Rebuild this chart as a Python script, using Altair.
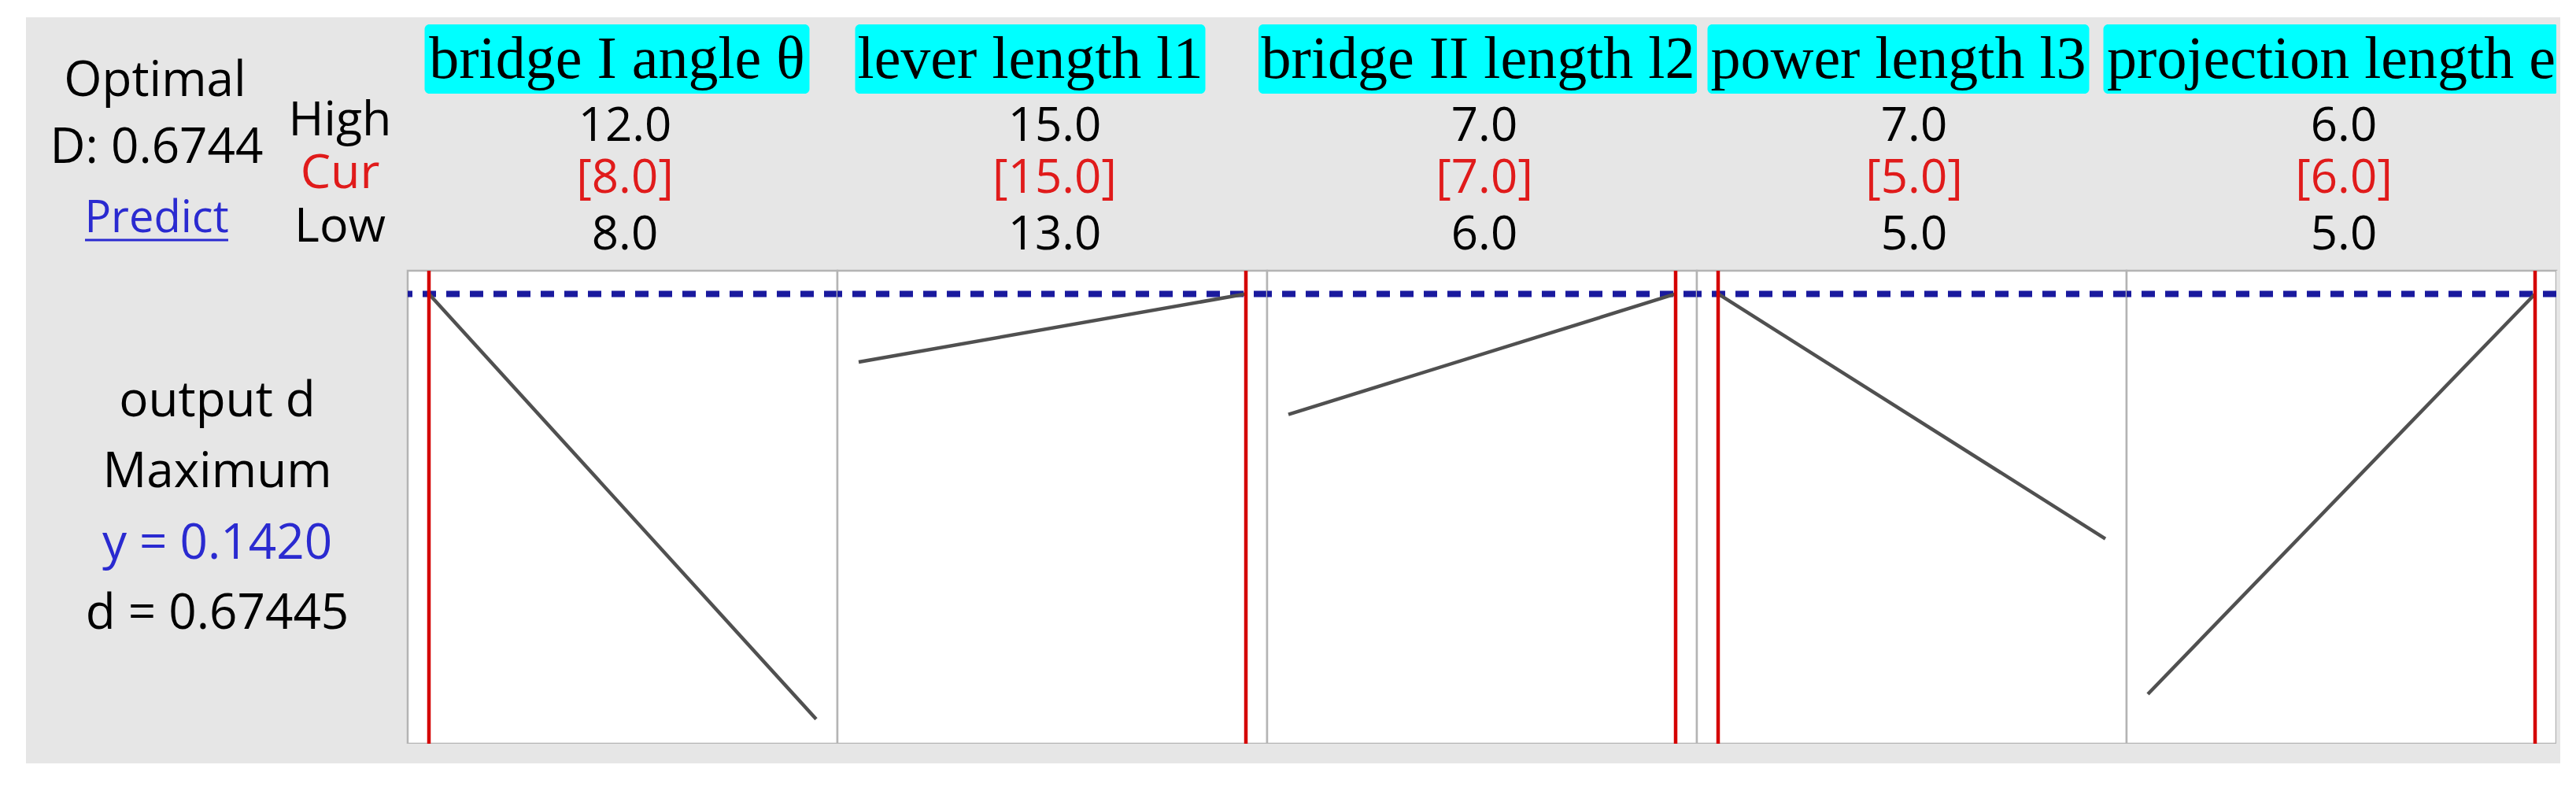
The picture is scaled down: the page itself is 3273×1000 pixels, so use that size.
import altair as alt
import pandas as pd

# ---------------- data ----------------
factors = ["bridge I angle θ", "lever length l1", "bridge II length l2",
           "power length l3", "projection length e"]
high = [12.0, 15.0, 7.0, 7.0, 6.0]
cur = [8.0, 15.0, 7.0, 5.0, 6.0]
low = [8.0, 13.0, 6.0, 5.0, 5.0]
# predicted response at the low and high end of each factor
y_at_low = [0.1420, 0.1273, 0.1160, 0.1420, 0.0557]
y_at_high = [0.0503, 0.1420, 0.1420, 0.0892, 0.1420]
y_opt = 0.1420
D_comp = 0.6744
d_ind = 0.67445
left_top = ["Optimal", f"D: {D_comp:.4f}", "Predict"]
row_labels = ["High", "Cur", "Low"]
left_bottom = ["output d", "Maximum", f"y = {y_opt:.4f}", f"d = {d_ind:.5f}"]

# ---------------- layout / style ----------------
PANEL_W = 546
HDR_H = 322
PLOT_H = 601
FOOT_H = 25
LEFT_W = 485
STRIP_W = 5
title_cx = [266, 245, 268, 256, 260]
title_w = [489, 445, 558, 485, 579]
Y_DOMAIN = [0.045, 0.147]

GREY = "#e6e6e6"
RED_TXT = "#e01b1b"
RED_LINE = "#d40000"
BLUE_DASH = "#1a1a9e"
BLUE_TXT = "#2a2ad0"
LINE_COL = "#505050"
SANS = "Open Sans"
SERIF = "Liberation Serif"
GREY_VIEW = alt.ViewBackground(fill=GREY, strokeWidth=0)


def txt(df, x, y, field, size=60, color="black", font=SANS):
    return alt.Chart(df).mark_text(
        font=font, fontSize=size, color=color, align="center", baseline="alphabetic"
    ).encode(x=alt.value(x), y=alt.value(y), text=f"{field}:N")


def blank(df, w, h):
    return alt.Chart(df).mark_text(text=" ").encode(
        x=alt.value(0), y=alt.value(0)
    ).properties(width=w, height=h, view=GREY_VIEW)


def header(i):
    hdr_df = pd.DataFrame({
        "t": [factors[i]],
        "hi": [f"{high[i]:.1f}"],
        "cu": [f"[{cur[i]:.1f}]"],
        "lo": [f"{low[i]:.1f}"],
    })
    cx, w = title_cx[i], title_w[i]
    box = alt.Chart(hdr_df).mark_rect(color="#00ffff", cornerRadius=6).encode(
        x=alt.value(cx - w / 2), x2=alt.value(cx + w / 2),
        y=alt.value(9), y2=alt.value(97),
    )
    return alt.layer(
        box,
        txt(hdr_df, cx, 77, "t", size=76, font=SERIF),
        txt(hdr_df, 276, 157, "hi"),
        txt(hdr_df, 276, 223, "cu", color=RED_TXT),
        txt(hdr_df, 276, 295, "lo"),
    ).properties(width=PANEL_W, height=HDR_H, view=GREY_VIEW)


def plot(i):
    lo, hi = low[i], high[i]
    xs = alt.Scale(domain=[lo, hi], padding=27, nice=False, zero=False)
    ys = alt.Scale(domain=Y_DOMAIN, nice=False, zero=False)

    line_df = pd.DataFrame({"x": [lo, hi], "y": [y_at_low[i], y_at_high[i]]})
    cur_df = pd.DataFrame({"x": [cur[i]]})
    opt_df = pd.DataFrame({"y": [y_opt]})

    dash = alt.Chart(opt_df).mark_rule(
        color=BLUE_DASH, strokeWidth=8, strokeDash=[17, 13]
    ).encode(y=alt.Y("y:Q", scale=ys, axis=None))
    line = alt.Chart(line_df).mark_line(color=LINE_COL, strokeWidth=4.5).encode(
        x=alt.X("x:Q", scale=xs, axis=None),
        y=alt.Y("y:Q", scale=ys, axis=None),
    )
    red = alt.Chart(cur_df).mark_rule(color=RED_LINE, strokeWidth=4.5).encode(
        x=alt.X("x:Q", scale=xs, axis=None)
    )
    return alt.layer(dash, line, red).properties(
        width=PANEL_W, height=PLOT_H,
        view=alt.ViewBackground(fill="white", stroke="#b4b4b4", strokeWidth=2.5),
    )


lt = pd.DataFrame({"a": [left_top[0]], "b": [left_top[1]], "c": [left_top[2]],
                   "h": [row_labels[0]], "k": [row_labels[1]], "l": [row_labels[2]],
                   "o": [left_bottom[0]], "m": [left_bottom[1]],
                   "y": [left_bottom[2]], "d": [left_bottom[3]]})

underline = alt.Chart(lt).mark_rule(color=BLUE_TXT, strokeWidth=3).encode(
    x=alt.value(75), x2=alt.value(257), y=alt.value(283)
)
left_hdr = alt.layer(
    txt(lt, 164, 100, "a", size=62),
    txt(lt, 166, 185, "b", size=62),
    txt(lt, 166, 273, "c", size=56, color=BLUE_TXT),
    underline,
    txt(lt, 399, 150, "h", size=61),
    txt(lt, 399, 217, "k", size=61, color=RED_TXT),
    txt(lt, 399, 285, "l", size=61),
).properties(width=LEFT_W, height=HDR_H, view=GREY_VIEW)

left_mid = alt.layer(
    txt(lt, 243, 185, "o", size=62),
    txt(lt, 243, 275, "m", size=62),
    txt(lt, 243, 366, "y", size=62, color=BLUE_TXT),
    txt(lt, 243, 455, "d", size=62),
).properties(width=LEFT_W, height=PLOT_H, view=GREY_VIEW)

cells = (
    [left_hdr] + [header(i) for i in range(5)] + [blank(lt, STRIP_W, HDR_H)]
    + [left_mid] + [plot(i) for i in range(5)] + [blank(lt, STRIP_W, PLOT_H)]
    + [blank(lt, LEFT_W, FOOT_H)] + [blank(lt, PANEL_W, FOOT_H) for _ in range(5)]
    + [blank(lt, STRIP_W, FOOT_H)]
)

chart = alt.concat(
    *cells, columns=7, spacing=0, bounds="flush"
).properties(
    padding={"left": 25, "top": 8, "right": 0, "bottom": 0}
).configure(background="white").configure_view(strokeWidth=0)

chart.save("out.html", embed_options={"renderer": "svg", "actions": False})
